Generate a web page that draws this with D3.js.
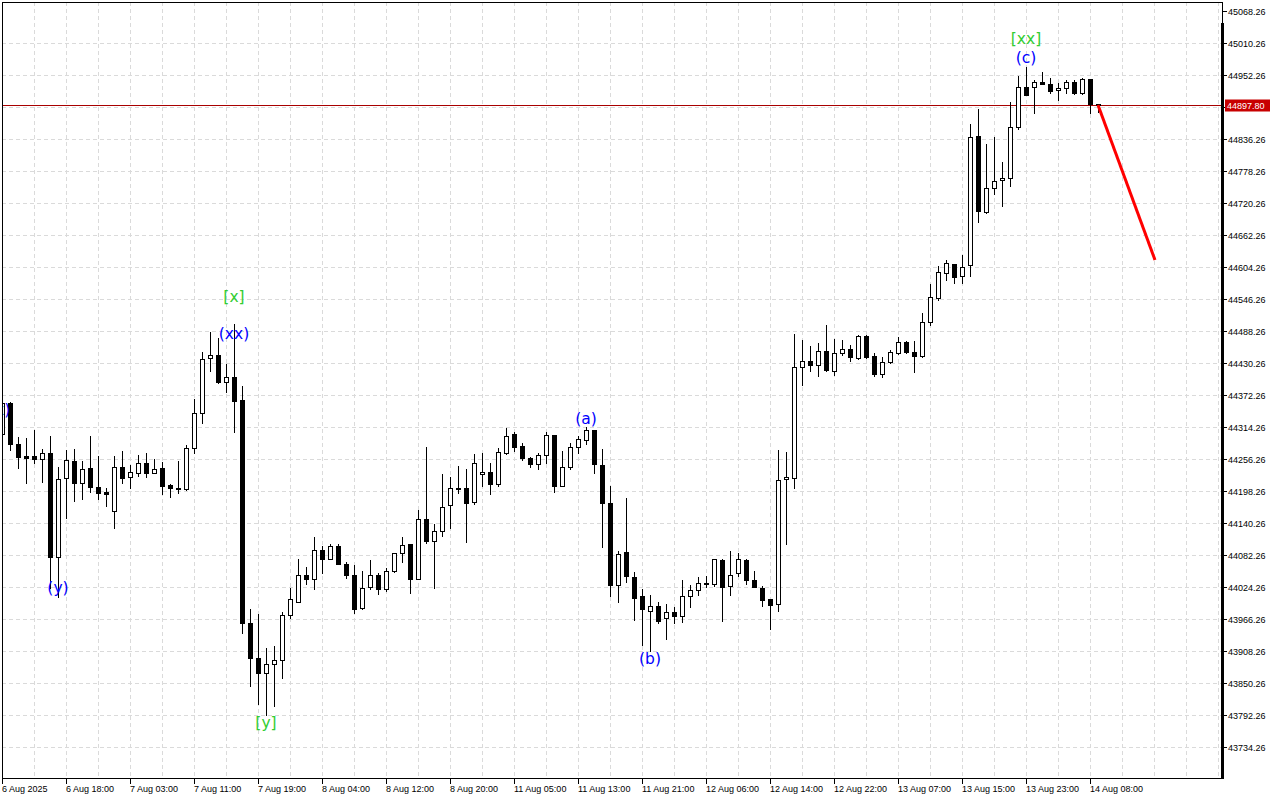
<!DOCTYPE html>
<html><head><meta charset="utf-8">
<script src="https://cdn.jsdelivr.net/npm/d3@7"></script>
<style>html,body{margin:0;padding:0;background:#fff;}svg{display:block;}</style>
</head><body>
<script>
const open = [44301.6,44357.8,44283.5,44261.7,44261.7,44256.3,44267.1,44078.6,44221.8,44252.6,
44212.8,44240.0,44205.5,44196.5,44162.0,44241.8,44223.6,44230.9,44249.0,44230.9,
44240.0,44209.1,44203.7,44201.9,44276.2,44339.6,44439.3,44444.8,44395.8,44404.9,
44363.2,43959.0,43895.6,43868.4,43884.7,43892.0,43973.5,43997.1,44046.0,44038.8,
44091.3,44075.0,44098.6,44066.0,44046.0,43986.2,44024.3,44046.0,44020.6,44053.3,
44085.9,44102.2,44038.8,44147.5,44107.6,44125.8,44172.9,44203.7,44203.7,44178.3,
44229.1,44232.7,44211.0,44267.1,44301.6,44279.8,44258.1,44247.2,44263.5,44299.8,
44207.3,44241.8,44278.0,44290.7,44308.8,44245.4,44176.5,44027.9,44087.7,44042.4,
44008.0,43980.8,43989.8,43968.1,43979.0,43971.7,44008.0,44018.8,44030.6,44029.7,
44073.2,44026.1,44049.6,44073.2,44037.0,44022.5,44002.5,43993.5,44220.0,44221.8,
44423.0,44433.9,44426.6,44452.0,44415.8,44448.4,44455.6,44439.3,44479.2,44443.0,
44410.3,44432.1,44448.4,44468.3,44450.2,44443.0,44504.6,44548.1,44593.4,44609.7,
44588.0,44607.9,44841.7,44704.0,44747.5,44762.0,44765.6,44858.0,44930.5,44930.5,
44939.6,44936.0,44925.1,44928.7,44939.6,44919.6,44945.0,44899.0];
const high = [44363.2,44359.6,44296.1,44294.3,44308.8,44274.4,44298.0,44241.8,44272.6,44274.4,
44252.6,44298.0,44261.7,44203.7,44261.7,44270.8,44245.4,44263.5,44267.1,44256.3,
44250.8,44211.0,44252.6,44281.6,44365.0,44450.2,44486.5,44475.6,44428.5,44501.0,
44388.6,43984.4,43975.3,43913.7,43917.3,43979.0,44022.5,44075.0,44060.5,44114.9,
44098.6,44102.2,44102.2,44069.6,44064.1,44053.3,44073.2,44049.6,44058.7,44085.9,
44114.9,44102.2,44163.8,44278.0,44138.5,44229.1,44223.6,44243.6,44238.1,44265.3,
44267.1,44249.0,44276.2,44312.5,44305.2,44285.3,44259.9,44267.1,44305.2,44299.8,
44270.8,44285.3,44298.0,44314.3,44308.8,44274.4,44207.3,44089.5,44185.6,44051.5,
44020.6,44009.8,43997.1,43993.5,43988.0,44037.0,44027.9,44042.4,44044.2,44075.0,
44075.0,44089.5,44085.9,44075.0,44053.3,44026.1,44002.5,44272.6,44269.0,44482.8,
44472.0,44461.1,44466.5,44499.1,44473.8,44472.0,44462.9,44481.0,44481.0,44448.4,
44441.1,44453.8,44477.4,44470.1,44470.1,44520.9,44573.5,44606.1,44617.0,44609.7,
44626.0,44863.5,44890.6,44827.2,44839.9,44794.6,44903.3,44950.5,44966.8,44943.2,
44957.7,44946.8,44937.8,44943.2,44943.2,44946.8,44945.0,44899.5];
const low = [44290.7,44272.6,44240.0,44212.8,44249.0,44214.6,44022.5,44006.1,44149.3,44180.1,
44183.8,44196.5,44183.8,44171.1,44131.2,44212.8,44203.7,44225.5,44223.6,44230.9,
44192.8,44187.4,44194.6,44200.1,44267.1,44321.5,44415.8,44394.0,44377.7,44305.2,
43940.9,43844.8,43812.2,43792.3,43808.6,43859.3,43968.1,43997.1,44029.7,44020.6,
44049.6,44075.0,44066.0,44040.6,43977.1,43984.4,44020.6,44011.6,44017.0,44051.5,
44069.6,44013.4,44038.8,44104.0,44022.5,44116.7,44131.2,44194.6,44105.8,44174.7,
44207.3,44192.8,44207.3,44265.3,44270.8,44254.5,44241.8,44238.1,44249.0,44196.5,
44207.3,44238.1,44267.1,44283.5,44230.9,44096.8,44008.0,43997.1,44033.3,43964.5,
43919.1,43908.3,43959.0,43930.0,43959.0,43960.8,43988.0,44009.8,44024.3,44026.1,
43962.6,44009.8,44044.2,44029.7,44024.3,43989.8,43948.1,43980.8,44102.2,44203.7,
44390.4,44415.8,44406.7,44415.8,44408.5,44444.8,44433.9,44437.5,44439.3,44406.7,
44404.9,44430.3,44446.6,44448.4,44414.0,44441.1,44499.1,44544.5,44580.7,44575.3,
44575.3,44588.0,44685.8,44702.1,44736.6,44714.8,44751.1,44854.4,44916.0,44883.4,
44936.0,44919.6,44907.0,44919.6,44917.8,44917.8,44883.4,44885.2];
const close = [44357.8,44283.5,44259.9,44258.1,44256.3,44267.1,44078.6,44220.0,44254.5,44212.8,
44238.1,44205.5,44194.6,44192.8,44241.8,44221.8,44232.7,44249.0,44230.9,44238.1,
44207.3,44203.7,44201.9,44276.2,44339.6,44437.5,44444.8,44395.8,44404.9,44361.4,
43959.0,43895.6,43868.4,43884.7,43892.0,43973.5,44002.5,44046.0,44038.8,44091.3,
44075.0,44098.6,44066.0,44046.0,43984.4,44022.5,44046.0,44020.6,44053.3,44085.9,
44100.4,44038.8,44147.5,44107.6,44125.8,44169.3,44203.7,44201.9,44176.5,44249.0,
44232.7,44211.0,44269.0,44298.0,44278.0,44258.1,44247.2,44263.5,44299.8,44207.3,
44241.8,44278.0,44292.5,44308.8,44247.2,44176.5,44027.9,44084.1,44044.2,44004.3,
43984.4,43989.8,43962.6,43979.0,43971.7,44008.0,44018.8,44031.5,44031.5,44075.0,
44024.3,44046.0,44075.0,44037.0,44024.3,44000.7,43991.6,44218.2,44223.6,44423.0,
44433.9,44426.6,44452.0,44417.6,44448.4,44455.6,44441.1,44479.2,44441.1,44410.3,
44432.1,44450.2,44468.3,44450.2,44443.0,44504.6,44549.9,44595.2,44611.5,44586.1,
44604.3,44839.9,44705.8,44747.5,44760.1,44765.6,44858.0,44930.5,44916.0,44939.6,
44936.0,44923.3,44928.7,44939.6,44919.6,44945.0,44899.0,44897.8];

const priceTicks = [43734.26,43792.26,43850.26,43908.26,43966.26,44024.26,44082.26,44140.26,44198.26,44256.26,44314.26,44372.26,44430.26,44488.26,44546.26,44604.26,44662.26,44720.26,44778.26,44836.26,44894.26,44952.26,45010.26,45068.26];
const timeTickIndex = [0,8,16,24,32,40,48,56,64,72,80,88,96,104,112,120,128,136];
const timeTickLabels = ["6 Aug 2025","6 Aug 18:00","7 Aug 03:00","7 Aug 11:00","7 Aug 19:00","8 Aug 04:00","8 Aug 12:00","8 Aug 20:00","11 Aug 05:00","11 Aug 13:00","11 Aug 21:00","12 Aug 06:00","12 Aug 14:00","12 Aug 22:00","13 Aug 07:00","13 Aug 15:00","13 Aug 23:00","14 Aug 08:00"];
const currentPrice = 44897.80;

const waveText = ["(x)","(y)","[x]","(xx)","[y]","(a)","(b)","[xx]","(c)"];
const waveIndex = [-0.3,7,29,29,33,73,81,128,128];
const wavePrice = [44345.1,44022.5,44549.9,44482.8,43777.8,44328.8,43893.8,45017.5,44983.1];
const waveKind = ["blue","blue","green","blue","green","blue","blue","green","blue"];

const arrowIndex = [137, 144.125];
const arrowPrice = [44897.8, 44617.0];

const W = 1280, H = 800;
const L = 2, R = 1222, T = 2, B = 778;
const svg = d3.select("body").append("svg").attr("width", W).attr("height", H)
  .style("font-family", "'Liberation Sans', Arial, sans-serif");
svg.append("rect").attr("width", W).attr("height", H).attr("fill", "#fff");

const x = d3.scaleLinear().domain([0, 152.5]).range([L, R]);
const y = d3.scaleLinear().domain([43734.26, 45068.26]).range([747, 11]);

const gridColor = "#dadada";
const g = svg.append("g");
d3.range(4, 153, 4).forEach(i => {
  const xx = Math.round(x(i)) + 0.5;
  g.append("line").attr("x1", xx).attr("x2", xx).attr("y1", T).attr("y2", B)
    .attr("stroke", gridColor).attr("stroke-dasharray", "4,3");
});
priceTicks.slice(0, -1).forEach(p => {
  const yy = Math.round(y(p)) + 0.5;
  g.append("line").attr("x1", L).attr("x2", R).attr("y1", yy).attr("y2", yy)
    .attr("stroke", gridColor).attr("stroke-dasharray", "4,3");
});

const cpY = Math.round(y(currentPrice)) + 0.5;
svg.append("line").attr("x1", L).attr("x2", R).attr("y1", cpY).attr("y2", cpY)
  .attr("stroke", "#a80000").attr("stroke-width", 1);

const cg = svg.append("g");
open.forEach((o, i) => {
  const c = close[i], h = high[i], l = low[i];
  const cx = Math.round(x(i));
  const yh = Math.round(y(h)), yl = Math.round(y(l));
  cg.append("line").attr("x1", cx + 0.5).attr("x2", cx + 0.5).attr("y1", yh).attr("y2", yl + 1)
    .attr("stroke", "#000").attr("stroke-width", 1);
  const y0 = Math.round(y(Math.max(o, c))), y1 = Math.round(y(Math.min(o, c)));
  const bh = y1 - y0;
  if (c >= o) {
    if (bh <= 1) {
      cg.append("rect").attr("x", cx - 2).attr("y", y0).attr("width", 5).attr("height", Math.max(1, bh + 1)).attr("fill", "#000");
    } else {
      cg.append("rect").attr("x", cx - 1.5).attr("y", y0 + 0.5).attr("width", 4).attr("height", bh)
        .attr("fill", "#fff").attr("stroke", "#000").attr("stroke-width", 1);
    }
  } else {
    cg.append("rect").attr("x", cx - 2).attr("y", y0).attr("width", 5).attr("height", Math.max(1, bh + 1)).attr("fill", "#000");
  }
});

const colors = {blue: "#0000ff", green: "#32cd32"};
waveText.forEach((t, k) => {
  svg.append("text").attr("x", x(waveIndex[k])).attr("y", y(wavePrice[k]))
    .attr("text-anchor", "middle").attr("dominant-baseline", "central")
    .style("font-family", "'DejaVu Sans', sans-serif").style("font-size", "15.5px")
    .attr("fill", colors[waveKind[k]]).text(t);
});

svg.append("line").attr("x1", x(arrowIndex[0])).attr("y1", y(arrowPrice[0]))
  .attr("x2", x(arrowIndex[1])).attr("y2", y(arrowPrice[1]))
  .attr("stroke", "#ff0000").attr("stroke-width", 3);

svg.append("rect").attr("x", R + 1).attr("y", 0).attr("width", W - R - 1).attr("height", H).attr("fill", "#fff");
svg.append("rect").attr("x", 0).attr("y", B + 1).attr("width", W).attr("height", H - B - 1).attr("fill", "#fff");
svg.append("rect").attr("x", 0).attr("y", 0).attr("width", L).attr("height", H).attr("fill", "#fff");

svg.append("rect").attr("x", L + 0.5).attr("y", T + 0.5).attr("width", R - L).attr("height", B - T)
  .attr("fill", "none").attr("stroke", "#000");
svg.append("line").attr("x1", R + 0.5).attr("x2", R + 0.5).attr("y1", 23).attr("y2", B + 1)
  .attr("stroke", "#000").attr("stroke-width", 3);

const ax = svg.append("g").style("font-size", "9px");
priceTicks.forEach(p => {
  const yy = Math.round(y(p)) + 0.5;
  ax.append("line").attr("x1", R + 1).attr("x2", R + 5).attr("y1", yy).attr("y2", yy).attr("stroke", "#000");
  ax.append("text").attr("x", R + 6).attr("y", yy + 3.5).attr("fill", "#000").text(p.toFixed(2));
});
ax.append("rect").attr("x", R + 3).attr("y", cpY - 6).attr("width", 45).attr("height", 12).attr("fill", "#c80000");
ax.append("text").attr("x", R + 5).attr("y", cpY + 3.5).attr("fill", "#fff").text(currentPrice.toFixed(2));

timeTickIndex.forEach((i, k) => {
  const xx = Math.round(x(i)) + 0.5;
  ax.append("line").attr("x1", xx).attr("x2", xx).attr("y1", B).attr("y2", B + 6).attr("stroke", "#000");
  ax.append("text").attr("x", xx - 0.5).attr("y", 792).attr("fill", "#000").text(timeTickLabels[k]);
});
</script>
</body></html>
